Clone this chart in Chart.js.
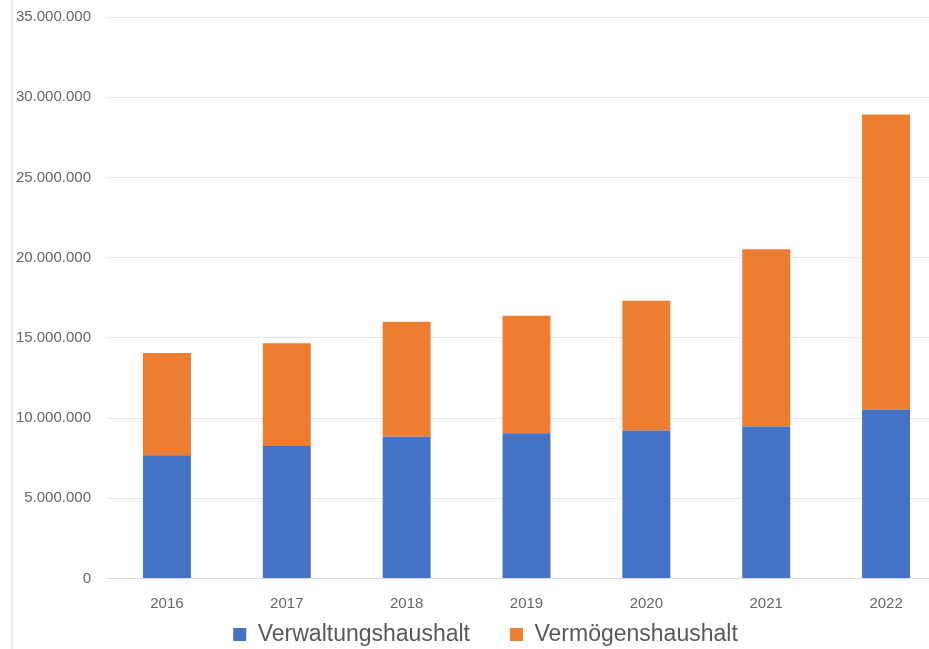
<!DOCTYPE html>
<html>
<head>
<meta charset="utf-8">
<script src="https://cdn.jsdelivr.net/npm/chart.js@4.4.1/dist/chart.umd.min.js"></script>
<style>
  html, body { margin: 0; padding: 0; background: #ffffff; overflow: hidden; }
  #wrap { position: relative; width: 929px; height: 649px; overflow: hidden; background: #ffffff; }
  #edge { position: absolute; left: 11px; top: 0; width: 2px; height: 649px; background: #ebebeb; }
  #c { position: absolute; left: 0; top: 0; }
</style>
</head>
<body>
<div id="wrap">
  <div id="edge"></div>
  <canvas id="c" width="946" height="656" style="width:946px;height:656px"></canvas>
</div>
<script>
const categories = ['2016', '2017', '2018', '2019', '2020', '2021', '2022'];
const verwaltungshaushalt = [7680000, 8260000, 8830000, 9050000, 9230000, 9480000, 10540000];
const vermoegenshaushalt = [6370000, 6400000, 7180000, 7330000, 8090000, 11050000, 18380000];
const yTickValues = [0, 5000000, 10000000, 15000000, 20000000, 25000000, 30000000, 35000000];

function fmtDE(v) {
  return String(Math.round(v)).replace(/\B(?=(\d{3})+(?!\d))/g, '.');
}

Chart.defaults.font.family = '"Liberation Sans", Arial, sans-serif';
Chart.defaults.color = '#666666';

new Chart(document.getElementById('c'), {
  type: 'bar',
  data: {
    labels: categories,
    datasets: [
      { label: 'Verwaltungshaushalt', data: verwaltungshaushalt, backgroundColor: '#4472C4', borderWidth: 0 },
      { label: 'Vermögenshaushalt', data: vermoegenshaushalt, backgroundColor: '#ED7D31', borderWidth: 0 }
    ]
  },
  options: {
    responsive: false,
    animation: false,
    events: [],
    datasets: { bar: { barPercentage: 0.5, categoryPercentage: 0.8 } },
    layout: { padding: { left: 25, right: 0, top: 17, bottom: 0 } },
    scales: {
      x: {
        stacked: true,
        grid: { display: false, drawTicks: false },
        border: { display: true, color: '#d9d9d9', width: 1 },
        ticks: { padding: 16, color: '#666666', font: { size: 15 } },
        afterFit: (s) => { s.height = 4.5; s.paddingLeft = 0; s.paddingRight = 0; s._computeLabelArea = () => undefined; }
      },
      y: {
        stacked: true,
        min: 0,
        max: 35000000,
        afterBuildTicks: (s) => { s.ticks = yTickValues.map(v => ({ value: v })); },
        grid: { color: '#e6e6e6', lineWidth: 1, drawTicks: false },
        border: { display: false },
        ticks: { padding: 16, color: '#666666', font: { size: 15 }, callback: (v) => fmtDE(v) },
        afterFit: (s) => { s.width = 82; s.paddingTop = 0; s.paddingBottom = 0; s._computeLabelArea = () => undefined; }
      }
    },
    plugins: {
      tooltip: { enabled: false },
      title: { display: false },
      legend: {
        display: true,
        position: 'bottom',
        labels: {
          boxWidth: 13,
          boxHeight: 13,
          padding: 40,
          color: '#595959',
          font: { size: 23 }
        }
      }
    }
  }
});
</script>
</body>
</html>
